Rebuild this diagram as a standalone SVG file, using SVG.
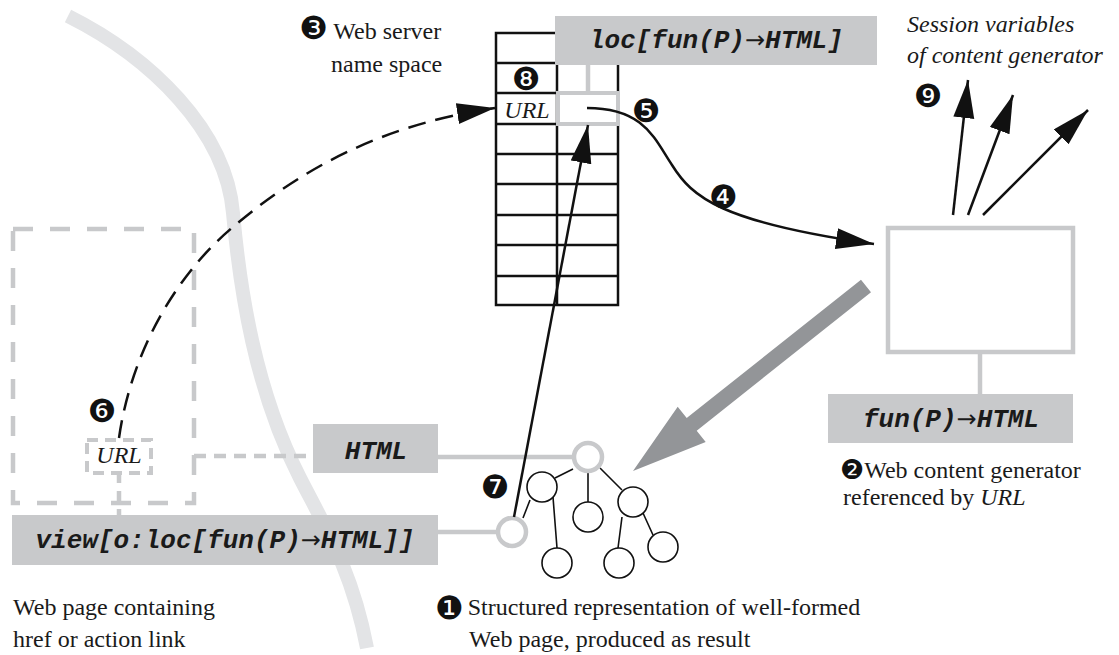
<svg xmlns="http://www.w3.org/2000/svg" width="1119" height="655" viewBox="0 0 1119 655">
<style>
.serif{font-family:"Liberation Serif","Times New Roman",serif;font-size:24px;fill:#1a1a1a}
.it{font-style:italic}
.mono{font-family:"Liberation Mono","Courier New",monospace;font-size:26px;font-weight:bold;font-style:italic;fill:#1a1a1a}
.arr{font-family:"DejaVu Sans",sans-serif;font-weight:normal;font-style:normal;font-size:24px}
.num{font-family:"DejaVu Sans",sans-serif;font-size:32px;fill:#111;text-anchor:middle}
.numi{font-family:"DejaVu Sans",sans-serif;font-size:32px;fill:#111}
.gbox{fill:#c8c9cb}
.gline{stroke:#c8c9cb;stroke-width:4.5;fill:none}
.gdash{stroke:#c8c9cb;stroke-width:4.5;fill:none}
.blk{stroke:#111;stroke-width:2.5;fill:none}
.thin{stroke:#111;stroke-width:1.6;fill:none}
</style>
<defs>
<marker id="ah" markerUnits="userSpaceOnUse" markerWidth="40" markerHeight="22" refX="38" refY="10.5" orient="auto">
<path d="M0,0 L38,10.5 L0,21 z" fill="#111"/>
</marker>
</defs>

<g id="band">
<path d="M68,16 C150,57 226,130 233,213 C240,290 255,390 300,478 C325,527 352,570 367,648" stroke="#e3e4e6" stroke-width="14" fill="none"/>
</g>

<g id="webpage">
<rect x="13" y="229" width="181" height="274" class="gdash" stroke-dasharray="20 17"/>
<rect x="87" y="440" width="64" height="33" stroke="#c8c9cb" stroke-width="4" fill="none" stroke-dasharray="11 7"/>
<text class="serif it" x="119" y="463" text-anchor="middle">URL</text>
</g>

<g id="namespace">
<rect x="496" y="33" width="122" height="272" class="blk"/>
<path class="blk" d="M557,33 V305 M496,63 H618 M496,93 H618 M496,124 H618 M496,154 H618 M496,184 H618 M496,215 H618 M496,245 H618 M496,276 H618"/>
<rect x="558" y="93" width="60" height="31" stroke="#c8c9cb" stroke-width="4" fill="#fff"/>
<text class="serif it" x="527" y="118" text-anchor="middle">URL</text>
<text class="num" x="526" y="90">❽</text>
</g>

<g id="loc-label">
<rect x="555" y="16" width="322" height="49" class="gbox"/>
<text class="mono" x="716" y="48" text-anchor="middle">loc[fun(P)<tspan class="arr">→</tspan>HTML]</text>
</g>

<g id="generator">
<rect x="888" y="228" width="185" height="124" stroke="#c8c9cb" stroke-width="4.5" fill="#fff"/>
</g>

<g id="fun-label">
<rect x="828" y="394" width="245" height="49" class="gbox"/>
<text class="mono" x="951" y="427" text-anchor="middle">fun(P)<tspan class="arr">→</tspan>HTML</text>
</g>

<g id="html-label">
<rect x="313" y="424" width="125" height="49" class="gbox"/>
<text class="mono" x="376" y="459" text-anchor="middle">HTML</text>
</g>

<g id="view-label">
<rect x="12" y="515" width="426" height="50" class="gbox"/>
<text class="mono" x="225" y="548" text-anchor="middle">view[o:loc[fun(P)<tspan class="arr">→</tspan>HTML]]</text>
</g>

<g id="tree">
<path class="thin" d="M573,469 L555,478 M588,473 V502 M600,468 L622,490 M530,500 L523,518 M553,497 L557,548 M622,517 L618,548 M643,513 L653,535"/>
<circle cx="542" cy="487" r="15" class="thin" fill="#fff"/>
<circle cx="588" cy="517" r="15" class="thin" fill="#fff"/>
<circle cx="633" cy="502" r="15" class="thin" fill="#fff"/>
<circle cx="557" cy="563" r="15" class="thin" fill="#fff"/>
<circle cx="619" cy="563" r="15" class="thin" fill="#fff"/>
<circle cx="663" cy="547" r="15" class="thin" fill="#fff"/>
<circle cx="588" cy="457" r="14" class="gline" fill="#fff"/>
<circle cx="512" cy="532" r="14" class="gline" fill="#fff"/>
</g>

<g id="connectors">
<path class="gline" d="M588,65 V93"/>
<path class="gline" d="M438,457 H574"/>
<path class="gline" d="M438,532 H498"/>
<path class="gline" d="M980,352 V394"/>
<path class="gdash" d="M194,456 H313" stroke-dasharray="12 8"/>
<path class="gdash" d="M119,473 V515" stroke-dasharray="10 8"/>
<path d="M119,438 C130,360 170,280 233,227 C300,170 380,125 495,108" stroke="#111" stroke-width="2.5" fill="none" stroke-dasharray="18 10" marker-end="url(#ah)"/>
<path class="blk" d="M587,108 C645,108 655,140 672,165 C692,197 720,222 874,244" marker-end="url(#ah)"/>
<path class="blk" d="M514,517 L588,125" marker-end="url(#ah)"/>
<path class="blk" d="M953,215 L968,80" marker-end="url(#ah)"/>
<path class="blk" d="M968,215 L1013,95" marker-end="url(#ah)"/>
<path class="blk" d="M983,215 L1088,110" marker-end="url(#ah)"/>
<polygon points="861,279.7 871,292.3 696.7,430.7 705.7,442 633,471 677.7,406.8 686.7,418.1" fill="#939598"/>
</g>

<g id="labels">
<text class="serif" x="299" y="39"><tspan class="numi">❸</tspan> Web server</text>
<text class="serif" x="331" y="72">name space</text>
<text class="num" x="646" y="122">❺</text>
<text class="num" x="723" y="208">❹</text>
<text class="num" x="928" y="107">❾</text>
<text class="serif it" x="907" y="32">Session variables</text>
<text class="serif it" x="907" y="63">of content generator</text>
<text class="num" x="102" y="422">❻</text>
<text class="num" x="495" y="498">❼</text>
<text class="serif" x="840" y="478"><tspan class="numi" style="font-size:27px" dy="1">❷</tspan><tspan dy="-1">Web content generator</tspan></text>
<text class="serif" x="843" y="505">referenced by <tspan class="it">URL</tspan></text>
<text class="serif" x="435" y="615"><tspan class="numi" dy="4">❶</tspan><tspan dx="4" dy="-4">Structured representation of well-formed</tspan></text>
<text class="serif" x="469" y="647">Web page, produced as result</text>
<text class="serif" x="13" y="615">Web page containing</text>
<text class="serif" x="13" y="647">href or action link</text>
</g>
</svg>
